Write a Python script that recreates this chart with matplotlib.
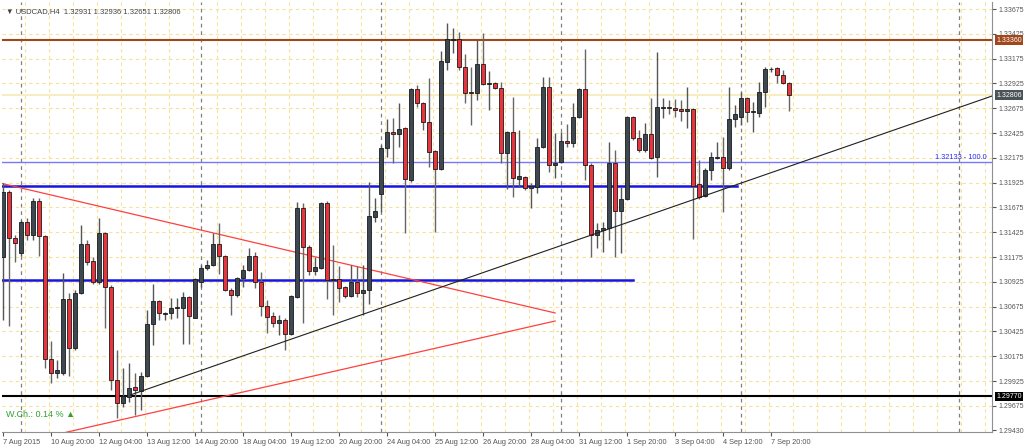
import matplotlib
matplotlib.use("Agg")
import matplotlib.pyplot as plt
import matplotlib.transforms as mtransforms
import numpy as np

plt.rcParams['font.family'] = ['Liberation Sans', 'DejaVu Sans']

# USDCAD H4 candles (open, high, low, close)
opens = [1.31175, 1.31831, 1.31367, 1.31216, 1.31528, 1.31397, 1.31740, 1.31387, 1.30147, 1.30006,
         1.30006, 1.30752, 1.30258, 1.30813, 1.31306, 1.31135, 1.30924, 1.31417, 1.30873, 1.29936,
         1.29704, 1.29764, 1.29865, 1.29825, 1.29976, 1.30500, 1.30732, 1.30601, 1.30611, 1.30661,
         1.30661, 1.30772, 1.30560, 1.30924, 1.31065, 1.31095, 1.31306, 1.31186, 1.30843, 1.30792,
         1.30964, 1.31044, 1.31186, 1.30924, 1.30682, 1.30581, 1.30510, 1.30540, 1.30399, 1.30772,
         1.31669, 1.31276, 1.31034, 1.31065, 1.31720, 1.30954, 1.30954, 1.30873, 1.30782, 1.30924,
         1.30813, 1.30843, 1.31579, 1.31810, 1.32274, 1.32435, 1.32415, 1.32476, 1.31952, 1.32869,
         1.32728, 1.32536, 1.32244, 1.32062, 1.33141, 1.33363, 1.33373, 1.33091, 1.32839, 1.32829,
         1.33121, 1.32919, 1.32929, 1.32879, 1.32224, 1.32435, 1.31962, 1.31982, 1.31871, 1.31881,
         1.32284, 1.32889, 1.32103, 1.32133, 1.32345, 1.32325, 1.32587, 1.32869, 1.32103, 1.31397,
         1.31448, 1.31468, 1.32123, 1.31639, 1.31760, 1.32587, 1.32375, 1.32254, 1.32415, 1.32183,
         1.32677, 1.32688, 1.32677, 1.32667, 1.32647, 1.32667, 1.31911, 1.31790, 1.32052, 1.32173,
         1.32183, 1.32073, 1.32566, 1.32587, 1.32778, 1.32637, 1.32627, 1.32839, 1.33070, 1.33081,
         1.33010, 1.32931]
highs = [1.31921, 1.31851, 1.31397, 1.31548, 1.31568, 1.31770, 1.31770, 1.31397, 1.30329, 1.30137,
         1.31014, 1.30813, 1.30843, 1.31498, 1.31347, 1.31175, 1.31568, 1.31427, 1.30893, 1.30238,
         1.30057, 1.30107, 1.30006, 1.30016, 1.30641, 1.30903, 1.30742, 1.30621, 1.30762, 1.30762,
         1.30823, 1.30782, 1.30964, 1.31095, 1.31145, 1.31417, 1.31518, 1.31196, 1.30863, 1.30974,
         1.31095, 1.31266, 1.31226, 1.31024, 1.30742, 1.30621, 1.30591, 1.30560, 1.30792, 1.31730,
         1.31720, 1.31296, 1.31175, 1.31730, 1.31740, 1.31296, 1.31085, 1.30883, 1.31095, 1.31085,
         1.31095, 1.31931, 1.31770, 1.32304, 1.32566, 1.32577, 1.32728, 1.32486, 1.32879, 1.32909,
         1.32738, 1.32980, 1.32254, 1.33252, 1.33534, 1.33484, 1.33443, 1.33222, 1.33091, 1.33363,
         1.33433, 1.33050, 1.32939, 1.32939, 1.32445, 1.32788, 1.32456, 1.31992, 1.31921, 1.32375,
         1.32990, 1.32990, 1.32425, 1.32435, 1.32516, 1.32728, 1.32879, 1.33272, 1.32123, 1.31518,
         1.31528, 1.32335, 1.32254, 1.31881, 1.32597, 1.32597, 1.32456, 1.32526, 1.32778, 1.33242,
         1.32778, 1.32758, 1.32768, 1.32758, 1.32889, 1.32677, 1.32153, 1.32073, 1.32234, 1.32335,
         1.32385, 1.32889, 1.32708, 1.32839, 1.32788, 1.32738, 1.32939, 1.33091, 1.33091, 1.33091,
         1.33060, 1.32936]
lows = [1.30540, 1.30480, 1.31125, 1.31186, 1.31347, 1.31347, 1.31186, 1.30057, 1.29905, 1.29956,
        1.29986, 1.29976, 1.30238, 1.30803, 1.31095, 1.30903, 1.30903, 1.30460, 1.29835, 1.29553,
        1.29663, 1.29714, 1.29583, 1.29633, 1.29966, 1.30288, 1.30540, 1.30540, 1.30550, 1.30560,
        1.30298, 1.30298, 1.30560, 1.30873, 1.31044, 1.31085, 1.31004, 1.30833, 1.30591, 1.30772,
        1.30873, 1.31034, 1.30863, 1.30581, 1.30409, 1.30470, 1.30389, 1.30238, 1.30389, 1.30762,
        1.30510, 1.30994, 1.30994, 1.31055, 1.30752, 1.30591, 1.30722, 1.30762, 1.30772, 1.30772,
        1.30591, 1.30702, 1.31528, 1.31629, 1.32183, 1.32123, 1.32284, 1.31417, 1.31931, 1.32688,
        1.32456, 1.32083, 1.31427, 1.32052, 1.33060, 1.33232, 1.33060, 1.32728, 1.32506, 1.32758,
        1.32909, 1.32657, 1.32869, 1.32123, 1.31861, 1.31780, 1.31881, 1.31851, 1.31669, 1.31821,
        1.32274, 1.32032, 1.31972, 1.32123, 1.32284, 1.32284, 1.32577, 1.31952, 1.31175, 1.31266,
        1.31226, 1.31347, 1.31175, 1.31216, 1.31750, 1.32355, 1.32234, 1.32234, 1.32163, 1.31982,
        1.32577, 1.32617, 1.32587, 1.32546, 1.32476, 1.31357, 1.31760, 1.31780, 1.31952, 1.32163,
        1.31629, 1.32052, 1.32486, 1.32506, 1.32536, 1.32435, 1.32587, 1.32688, 1.33040, 1.32929,
        1.32919, 1.32651]
closes = [1.31831, 1.31367, 1.31317, 1.31528, 1.31397, 1.31740, 1.31387, 1.30147, 1.30006, 1.30036,
          1.30752, 1.30258, 1.30813, 1.31306, 1.31125, 1.30924, 1.31417, 1.30873, 1.29936, 1.29704,
          1.29774, 1.29855, 1.29835, 1.29976, 1.30500, 1.30732, 1.30611, 1.30611, 1.30661, 1.30671,
          1.30772, 1.30581, 1.30954, 1.31065, 1.31095, 1.31306, 1.31186, 1.30843, 1.30792, 1.30964,
          1.31044, 1.31186, 1.30924, 1.30682, 1.30571, 1.30510, 1.30540, 1.30399, 1.30782, 1.31669,
          1.31276, 1.31034, 1.31075, 1.31720, 1.30944, 1.30944, 1.30863, 1.30782, 1.30924, 1.30813,
          1.30843, 1.31589, 1.31639, 1.32274, 1.32435, 1.32415, 1.32466, 1.31962, 1.32869, 1.32728,
          1.32536, 1.32234, 1.32062, 1.33151, 1.33373, 1.33373, 1.33091, 1.32829, 1.32829, 1.33121,
          1.32919, 1.32929, 1.32879, 1.32224, 1.32435, 1.31972, 1.31992, 1.31871, 1.31891, 1.32284,
          1.32889, 1.32103, 1.32123, 1.32345, 1.32325, 1.32587, 1.32869, 1.32103, 1.31397, 1.31448,
          1.31468, 1.32123, 1.31639, 1.31760, 1.32587, 1.32375, 1.32254, 1.32415, 1.32173, 1.32688,
          1.32688, 1.32677, 1.32657, 1.32647, 1.32667, 1.31891, 1.31780, 1.32052, 1.32183, 1.32183,
          1.32073, 1.32566, 1.32617, 1.32778, 1.32637, 1.32647, 1.32839, 1.33070, 1.33071, 1.33010,
          1.32929, 1.32806]

date_labels = ["7 Aug 2015", "10 Aug 20:00", "12 Aug 04:00", "13 Aug 12:00", "14 Aug 20:00",
               "18 Aug 04:00", "19 Aug 12:00", "20 Aug 20:00", "24 Aug 04:00", "25 Aug 12:00",
               "26 Aug 20:00", "28 Aug 04:00", "31 Aug 12:00", "1 Sep 20:00", "3 Sep 04:00",
               "4 Sep 12:00", "7 Sep 20:00"]
price_ticks = [1.33675, 1.33425, 1.33175, 1.32925, 1.32675, 1.32425, 1.32175, 1.31925, 1.31675,
               1.31425, 1.31175, 1.30925, 1.30675, 1.30425, 1.30175, 1.29925, 1.29675]
price_min_label = 1.29430

resistance = 1.33360
fib_level = 1.32133
support_low = 1.29770
blue_upper = 1.31891
blue_lower = 1.30944
# trendlines: (bar, price) endpoints
tri_upper = ([-0.5, 92], [1.31921, 1.30611])
tri_lower = ([10, 92], [1.29401, 1.30530])
trend_up = ([21.2, 164.8], [1.29784, 1.32798])
separators = [3, 33, 63, 93, 123, 159.3]

fig = plt.figure(figsize=(10.24, 4.47), dpi=100)
ax = fig.add_axes([2/1024, 15/447, 990/1024, 430/447])
ax.set_xlim(-0.17, 164.8)
ax.set_ylim(1.29411, 1.33746)

# grid
for p in price_ticks:
    ax.axhline(p, color="#f3e39a", lw=0.8, ls=(0, (3, 3)), zorder=0)
for b in np.arange(3.67, 165, 4):
    ax.axvline(b, color="#f3e39a", lw=0.8, ls=(0, (3, 3)), zorder=0)
for b in separators:
    ax.axvline(b, color="#808080", lw=0.9, ls=(0, (3, 3)), zorder=1)

# horizontal levels
ax.axhline(resistance, color="#a0461a", lw=1.5, zorder=2)
ax.axhline(closes[-1], color="#f7ecc2", lw=1.5, zorder=1)
ax.axhline(fib_level, color="#7878ff", lw=1.0, zorder=2)
ax.axhline(support_low, color="black", lw=1.5, zorder=2)
ax.plot([-0.5, 122.3], [blue_upper, blue_upper], color="#1616e0", lw=1.8, zorder=2)
ax.plot([-0.5, 105], [blue_lower, blue_lower], color="#1616e0", lw=1.8, zorder=2)
ax.plot(*tri_upper, color="#ff4040", lw=0.9, zorder=2)
ax.plot(*tri_lower, color="#ff4040", lw=0.9, zorder=2)
ax.plot(*trend_up, color="#202020", lw=0.8, zorder=4)

# candles
w = 0.62
for i, (o, h, l, c) in enumerate(zip(opens, highs, lows, closes)):
    bull = c >= o
    ax.vlines(i, l, h, color="#555555" if bull else "#666666", lw=1.0, zorder=3)
    face = "#3e4850" if bull else "#e8343c"
    bot = min(o, c)
    hgt = max(abs(c - o), 0.00003)
    ax.add_patch(plt.Rectangle((i - w/2, bot), w, hgt, facecolor=face,
                               edgecolor="#1a1a1a", lw=0.6, zorder=3))

# axes styling
for s in ["top", "left"]:
    ax.spines[s].set_visible(False)
ax.spines["right"].set_color("#909090")
ax.spines["bottom"].set_color("#909090")
ax.yaxis.tick_right()
ax.set_yticks(price_ticks + [price_min_label])
ax.set_yticklabels([f"{p:.5f}" for p in price_ticks + [price_min_label]])
ax.tick_params(axis="y", labelsize=5, colors="#555555", length=3, pad=1.5)
ax.set_xticks(np.arange(0, 8 * len(date_labels), 8))
ax.set_xticklabels(date_labels, ha="left")
ax.tick_params(axis="x", labelsize=5.3, colors="#555555", length=3, pad=2)

# price boxes on the right axis
trans = mtransforms.blended_transform_factory(ax.transAxes, ax.transData)
for p, bg in [(resistance, "#a0461a"), (closes[-1], "#4a5358"), (support_low, "black")]:
    ax.text(1.0045, p, f"{p:.5f}", transform=trans, fontsize=5, color="white", va="center",
            ha="left", bbox=dict(boxstyle="square,pad=0.2", fc=bg, ec="none"), zorder=10,
            clip_on=False)
ax.text(0.995, fib_level + 0.00012, f"{fib_level:.5f} - 100.0", transform=trans, fontsize=5.3,
        color="#2a2aff", ha="right", va="bottom")

ax.text(0.004, 0.985, "\u25bc USDCAD,H4  1.32931 1.32936 1.32651 1.32806",
        transform=ax.transAxes, fontsize=5.5, color="#444444", va="top")
ax.text(0.004, 0.03, "W.Ch.: 0.14 % \u25b2", transform=ax.transAxes, fontsize=6.5,
        color="#30a030", va="bottom")

fig.savefig("out.png", dpi=100)
